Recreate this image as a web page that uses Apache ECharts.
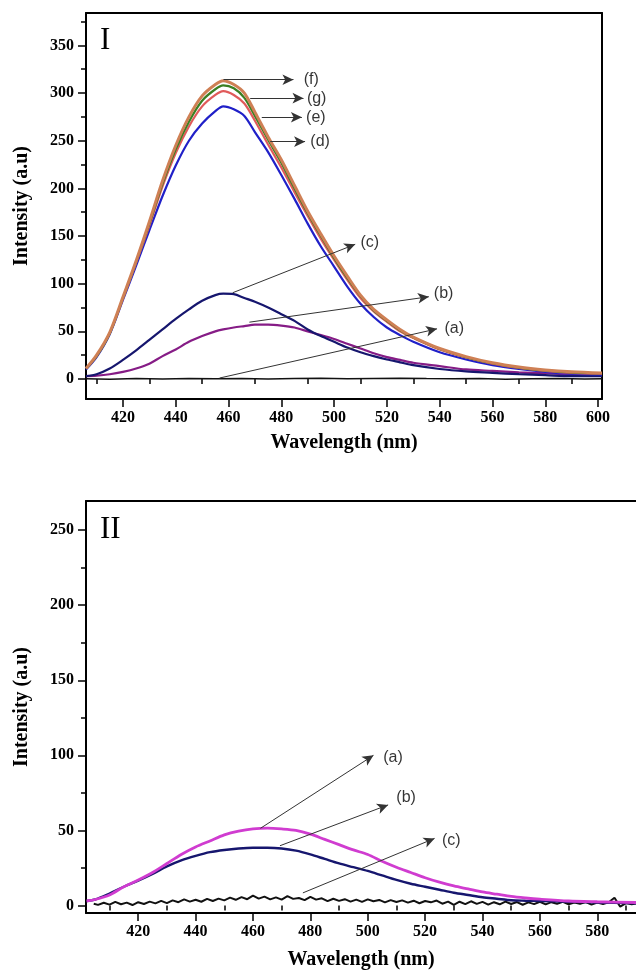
<!DOCTYPE html>
<html>
<head>
<meta charset="utf-8">
<script src="https://cdn.jsdelivr.net/npm/echarts@6/dist/echarts.min.js"></script>
<style>
html,body{margin:0;padding:0;background:#fff;}
#main{width:636px;height:971px;}
</style>
</head>
<body>
<div id="main"></div>
<script>
/*****  data : panel I  *****/
var wlI = [406,410,415,420,425,430,435,440,445,450,455,458,462,466,470,475,480,485,490,495,500,505,510,515,520,525,530,540,550,560,570,580,590,601.5];
var curveB = [3,3.5,5,7.5,11,16,24,31,39,45,50,52,54,55.5,57,57,56,54,50,46,42,37,32,27,23,20,17,13.5,10,8.5,7,6,5,4.5];
var curveC = [3,5,11,20,30,41,52,63,73,82,88,89.5,89,85,81,75,68,61,52,45,39,33,28,24,20.5,17.5,14.5,10.5,8,6.5,5,4,3,3];
var curveD = [10,23,47,83,119,156,192,224,250,268,281,286,283,276,259,238,214,189,163,139,118,97,79,65,54,46,39,28,20.5,14.5,10.5,7.5,5.5,4.5];
var curveE = [11,24,48,84,122,161,202,237,265,286,298,302,298,289,271,246,222,196,171,147,125,104,85,71,60,50,43,31,22.5,16,11.5,8.5,6.5,5.5];
var curveG = [11,24,48,85,123,163,205,241,270,292,304,308,305,295,276,251,227,200,174,150,127,106,87,72,61,51,43.5,31.5,23,16.5,12,9,7,6];
var curveF = [11,25,49,86,124,165,208,245,275,297,309,313,309,300,280,254,230,203,176,152,129,108,88,73,62,52,44,32,23.5,17,12.5,9.5,7.5,6.2];
var curveA = [[406,0.3],[415,-0.2],[425,0.4],[435,0],[445,0.5],[455,0.2],[465,0.6],[475,0.1],[485,0.5],[495,0.8],[505,0.3],[515,0.6],[525,0.9],[535,0.4],[545,0.2],[555,0.5],[565,-0.3],[575,0.2],[585,0.4],[595,0],[601.5,0.3]];

/*****  data : panel II  *****/
var wlII = [402,405,410,415,420,425,430,435,440,445,450,455,460,465,470,475,480,485,490,495,500,505,510,515,520,525,530,535,540,545,550,555,560,570,580,593.5];
var curve2A = [3,4,7,12.5,17,22,28,34,39,43,47,49.5,51,51.5,51,50,47.5,44,40.5,37,34,29.5,25.5,22,18.5,15.5,13,11,9,7.5,6,5,4.2,3,2.5,2];
var curve2B = [3,4,8,12.5,16.5,21,26,30,33,35.5,37,38,38.5,38.5,38,36.5,34,31,28,25.5,23,20,17,14.5,12.5,10.5,8.5,7,5.5,4.5,3.5,3.2,3,2.5,2,1.5];
var curve2C = [[404.5,1.2],[406,0.4],[408,1.8],[410,0.6],[412,2.4],[414,0.8],[416,1.9],[418,0.3],[420,2.2],[422,1.0],[424,2.6],[426,1.4],[428,3.1],[430,1.6],[432,3.4],[434,2.2],[436,4.1],[438,2.6],[440,3.8],[442,2.5],[444,4.4],[446,3.0],[448,4.6],[450,3.4],[452,5.2],[454,3.8],[456,5.6],[458,4.2],[460,6.6],[462,4.6],[464,5.9],[466,4.1],[468,5.4],[470,3.9],[472,6.2],[474,4.4],[476,5.0],[478,3.6],[480,5.8],[482,3.9],[484,4.8],[486,2.9],[488,4.5],[490,3.1],[492,4.2],[494,2.6],[496,3.9],[498,2.4],[500,4.1],[502,2.8],[504,3.7],[506,2.1],[508,3.6],[510,2.3],[512,3.4],[514,1.9],[516,3.2],[518,1.5],[520,3.0],[522,2.1],[524,3.3],[526,1.2],[528,2.6],[530,0.4],[532,2.5],[534,0.9],[536,2.8],[538,1.1],[540,2.4],[542,0.6],[544,2.2],[546,0.8],[548,2.6],[550,1.0],[552,2.3],[554,0.5],[556,2.1],[558,0.9],[560,2.5],[562,0.7],[564,2.2],[566,1.2],[568,2.4],[570,0.8],[572,2.0],[574,1.1],[576,2.3],[578,0.6],[580,1.9],[582,1.0],[584,2.2],[586,5.2],[588,-0.8],[590,1.6],[592,0.9],[593.5,1.4]];

/*****  ticks  *****/
var xMajorI = [420,440,460,480,500,520,540,560,580,600];
var xMinorI = [410,430,450,470,490,510,530,550,570,590];
var yMajorI = [0,50,100,150,200,250,300,350];
var yMinorI = [25,75,125,175,225,275,325,375];
var xMajorII = [420,440,460,480,500,520,540,560,580];
var xMinorII = [410,430,450,470,490,510,530,550,570,590];
var yMajorII = [0,50,100,150,200,250];
var yMinorII = [25,75,125,175,225];

/*****  annotations  [x1,y1,x2,y2] / text anchor  *****/
var labI = ['(f)','(g)','(e)','(d)','(c)','(b)','(a)'];
var arrI = [[458.1,314,484.6,314],[468.2,294.6,488.4,294.6],[472.6,274.6,487.8,274.6],[475.8,249,489,249],[461.6,90.5,508,141.3],[467.9,59.6,535.9,86.3],[456.6,1,539,52.6]];
var txtI = [[488.3,314],[489.5,294.6],[489.2,274.6],[490.8,249],[509.8,143.5],[537.6,89.4],[541.6,52.9]];
var labII = ['(a)','(b)','(c)'];
var arrII = [[462.6,51.4,502,100],[469.4,39.8,507.1,67],[477.4,8.4,523.3,44.7]];
var txtII = [[505.2,98.5],[509.8,72],[525.7,43]];

var serif = '"Liberation Serif", "Times New Roman", serif';
var sans = '"Liberation Sans", Arial, sans-serif';

function zip(xs, ys){
	var out = [];
	for (var i = 0; i < xs.length; i++) out.push([xs[i], ys[i]]);
	return out;
}

function mainX(grid, min, max, major, gap){
	return {
		gridIndex: grid, type: 'value', min: min, max: max, position: 'bottom',
		axisLine: {show: true, onZero: false, lineStyle: {color: '#000', width: 2}},
		axisTick: {show: true, length: 8, customValues: major, lineStyle: {color: '#000', width: 1.5}},
		axisLabel: {show: true, customValues: major, margin: 11, color: '#000',
			fontFamily: serif, fontWeight: 'bold', fontSize: 16},
		splitLine: {show: false},
		name: 'Wavelength (nm)', nameLocation: 'middle', nameGap: gap,
		nameTextStyle: {fontFamily: serif, fontWeight: 'bold', fontSize: 20, color: '#000'}
	};
}
function minorX(grid, min, max, minor){
	return {
		gridIndex: grid, type: 'value', min: min, max: max, position: 'bottom',
		axisLine: {show: false},
		axisTick: {show: true, length: 5, customValues: minor, lineStyle: {color: '#000', width: 1.5}},
		axisLabel: {show: false, customValues: minor},
		splitLine: {show: false}
	};
}
function topX(grid, min, max){
	return {
		gridIndex: grid, type: 'value', min: min, max: max, position: 'top',
		axisLine: {show: true, onZero: false, lineStyle: {color: '#000', width: 2}},
		axisTick: {show: false}, axisLabel: {show: false}, splitLine: {show: false}
	};
}
function mainY(grid, min, max, major){
	return {
		gridIndex: grid, type: 'value', min: min, max: max, position: 'left',
		axisLine: {show: true, onZero: false, lineStyle: {color: '#000', width: 2}},
		axisTick: {show: true, length: 8, customValues: major, lineStyle: {color: '#000', width: 1.5}},
		axisLabel: {show: true, customValues: major, margin: 12, color: '#000',
			fontFamily: serif, fontWeight: 'bold', fontSize: 16},
		splitLine: {show: false},
		name: 'Intensity (a.u)', nameLocation: 'middle', nameGap: 54, nameRotate: 90,
		nameTextStyle: {fontFamily: serif, fontWeight: 'bold', fontSize: 20, color: '#000'}
	};
}
function minorY(grid, min, max, minor){
	return {
		gridIndex: grid, type: 'value', min: min, max: max, position: 'left',
		axisLine: {show: false},
		axisTick: {show: true, length: 5, customValues: minor, lineStyle: {color: '#000', width: 1.5}},
		axisLabel: {show: false, customValues: minor},
		splitLine: {show: false}
	};
}
function rightY(grid, min, max){
	return {
		gridIndex: grid, type: 'value', min: min, max: max, position: 'right',
		axisLine: {show: true, onZero: false, lineStyle: {color: '#000', width: 2}},
		axisTick: {show: false}, axisLabel: {show: false}, splitLine: {show: false}
	};
}

function curve(name, xi, yi, data, color, width){
	return {
		name: name, type: 'line', xAxisIndex: xi, yAxisIndex: yi,
		data: data, showSymbol: false, smooth: 0.3,
		lineStyle: {color: color, width: width}, itemStyle: {color: color}
	};
}

function notes(xi, yi, labs, arrs, txts){
	var pts = [], lines = [];
	for (var i = 0; i < labs.length; i++) {
		pts.push({name: labs[i], value: txts[i]});
		lines.push([{coord: [arrs[i][0], arrs[i][1]]}, {coord: [arrs[i][2], arrs[i][3]]}]);
	}
	return {
		type: 'scatter', xAxisIndex: xi, yAxisIndex: yi, silent: true,
		data: pts, symbolSize: 1, itemStyle: {color: 'rgba(0,0,0,0)'},
		label: {show: true, position: 'right', distance: 0, formatter: '{b}',
			color: '#000', fontFamily: sans, fontSize: 16},
		markLine: {
			silent: true, symbol: ['none', 'arrow'], symbolSize: [8, 11],
			label: {show: false},
			lineStyle: {color: '#333', width: 1, type: 'solid'},
			emphasis: {disabled: true},
			data: lines
		}
	};
}

var chart = echarts.init(document.getElementById('main'));

option = {
	animation: false,
	backgroundColor: '#fff',
	grid: [
		{left: 86, top: 13, width: 516, height: 386},
		{left: 86, top: 501, right: 0, height: 413}
	],
	xAxis: [
		mainX(0, 406, 601.5, xMajorI, 34),
		minorX(0, 406, 601.5, xMinorI),
		topX(0, 406, 601.5),
		mainX(1, 401.8, 593.5, xMajorII, 37),
		minorX(1, 401.8, 593.5, xMinorII),
		topX(1, 401.8, 593.5)
	],
	yAxis: [
		mainY(0, -21, 384, yMajorI),
		minorY(0, -21, 384, yMinorI),
		rightY(0, -21, 384),
		mainY(1, -5, 269.4, yMajorII),
		minorY(1, -5, 269.4, yMinorII)
	],
	graphic: [
		{type: 'text', left: 100, top: 25, style: {text: 'I', font: '31px ' + serif, fill: '#000'}},
		{type: 'text', left: 100, top: 514, style: {text: 'II', font: '31px ' + serif, fill: '#000'}}
	],
	series: [
		{name: '(a)', type: 'line', xAxisIndex: 0, yAxisIndex: 0, data: curveA, showSymbol: false,
			lineStyle: {color: '#111', width: 1.5}},
		curve('(b)', 0, 0, zip(wlI, curveB), '#861c86', 2.2),
		curve('(c)', 0, 0, zip(wlI, curveC), '#16166e', 2.2),
		curve('(d)', 0, 0, zip(wlI, curveD), '#2020c8', 2.2),
		curve('(e)', 0, 0, zip(wlI, curveE), '#e05a5a', 2.2),
		curve('(g)', 0, 0, zip(wlI, curveG), '#3a7f22', 2.2),
		curve('(f)', 0, 0, zip(wlI, curveF), '#cf8055', 3),
		notes(0, 0, labI, arrI, txtI),

		{name: '(c)', type: 'line', xAxisIndex: 3, yAxisIndex: 3, data: curve2C, showSymbol: false,
			lineStyle: {color: '#111', width: 2}},
		curve('(b)', 3, 3, zip(wlII, curve2B), '#16166e', 2.4),
		curve('(a)', 3, 3, zip(wlII, curve2A), '#d03cd0', 2.8),
		notes(3, 3, labII, arrII, txtII)
	]
};

chart.setOption(option);
</script>
</body>
</html>
